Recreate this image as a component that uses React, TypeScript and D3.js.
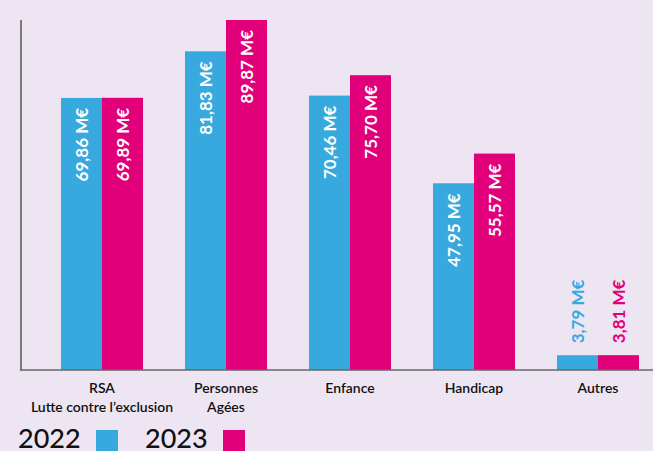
import React from "react";
import * as d3 from "d3";

const categories = ["RSA|Lutte contre l’exclusion", "Personnes|Agées", "Enfance", "Handicap", "Autres"];
const years = ["2022", "2023"];
const values2022 = [69.86, 81.83, 70.46, 47.95, 3.79];
const values2023 = [69.89, 89.87, 75.7, 55.57, 3.81];
const colors = ["#37a9df", "#e2007a"];

const W = 653;
const H = 451;
const baseY = 370;
const topY = 20;
const axisX = 21;

const fmt = (v: number) => v.toFixed(2).replace(".", ",") + " M€";

export default function App() {
  const x = d3.scalePoint<string>().domain(categories).range([102, 598]);
  const inner = d3.scaleBand<string>().domain(years).range([-41, 41]).padding(0);
  const y = d3.scaleLinear().domain([0, 89.87]).range([baseY, topY]);
  const series = [values2022, values2023];
  const font = "Lato, 'Open Sans', sans-serif";

  return (
    <svg width={W} height={H} style={{ position: "fixed", left: 0, top: 0, background: "#ede6f2" }} fontFamily={font}>
      <rect x={0} y={0} width={W} height={H} fill="#ede6f2" />
      {categories.map((c, i) =>
        years.map((yr, j) => {
          const v = series[j][i];
          const bx = (x(c) as number) + (inner(yr) as number);
          const bw = inner.bandwidth();
          const by = y(v);
          const h = baseY - by;
          const cx = bx + bw / 2;
          const inside = h > 100;
          return (
            <g key={c + yr}>
              <rect x={bx} y={by} width={bw} height={h} fill={colors[j]} />
              <text
                transform={`translate(${cx},${inside ? by + 10 : by - 12}) rotate(-90)`}
                textAnchor={inside ? "end" : "start"}
                dominantBaseline="central"
                fill={inside ? "#ffffff" : colors[j]}
                fontSize={17}
                fontWeight={700}
              >
                {fmt(v)}
              </text>
            </g>
          );
        })
      )}
      <line x1={axisX} x2={axisX} y1={topY} y2={baseY + 1} stroke="#555" strokeWidth={1.5} />
      <line x1={axisX} x2={W} y1={baseY} y2={baseY} stroke="#666" strokeWidth={1.5} />
      {categories.map((c) => {
        const lines = c.split("|");
        return (
          <text key={c} x={x(c)} y={393} textAnchor="middle" fontSize={14} fill="#111" fontWeight={600}>
            {lines.map((l, k) => (
              <tspan key={k} x={x(c)} dy={k === 0 ? 0 : 19}>
                {l}
              </tspan>
            ))}
          </text>
        );
      })}
      {years.map((yr, j) => {
        const lx = 18 + j * 127;
        return (
          <g key={yr}>
            <text x={lx} y={448} fontSize={27} fill="#111" fontWeight={500}>
              {yr}
            </text>
            <rect x={lx + 78} y={430} width={22} height={21} fill={colors[j]} />
          </g>
        );
      })}
    </svg>
  );
}
